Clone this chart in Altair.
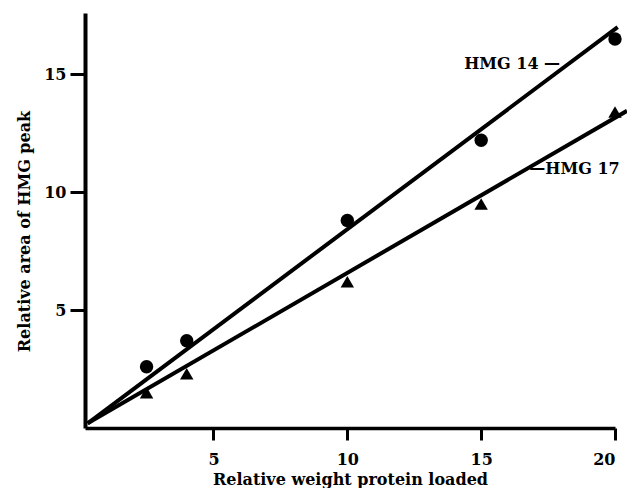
import altair as alt
import pandas as pd

# Measured data
x_load = [2.5, 4, 10, 15, 20]
hmg14 = [2.6, 3.7, 8.8, 12.2, 16.5]
hmg17 = [1.5, 2.3, 6.2, 9.5, 13.4]

# Fitted lines (start near origin)
line14_x = [0.3, 20.1]
line14_y = [0.2, 17.0]
line17_x = [0.3, 20.45]
line17_y = [0.2, 13.45]

# Line labels
label_text = ["HMG 14 \u2014", "\u2014HMG 17"]
label_x = [17.95, 16.8]
label_y = [15.42, 10.97]
label_align = ["right", "left"]

x_ticks = [5, 10, 15, 20]
y_ticks = [5, 10, 15]

FONT = "DejaVu Serif"

pts = pd.DataFrame(
    {"x": x_load * 2, "y": hmg14 + hmg17,
     "series": ["HMG 14"] * len(x_load) + ["HMG 17"] * len(x_load)}
)
lines = pd.DataFrame(
    {"x": line14_x + line17_x, "y": line14_y + line17_y,
     "series": ["HMG 14"] * 2 + ["HMG 17"] * 2}
)
labs = pd.DataFrame({"x": label_x, "y": label_y, "t": label_text, "a": label_align})

xs = alt.Scale(domain=[0.2, 20], nice=False, zero=False)
ys = alt.Scale(domain=[0, 17.6], nice=False, zero=False)

xaxis = alt.Axis(
    values=x_ticks, grid=False, title="Relative weight protein loaded",
    domainWidth=3.5, domainColor="black", tickColor="black", tickWidth=3, tickSize=12,
    labelFont=FONT, labelFontWeight="bold", labelFontSize=16, labelColor="black",
    labelPadding=11, titleFont=FONT, titleFontWeight="bold", titleFontSize=16,
    titleColor="black", titlePadding=4,
)
yaxis = alt.Axis(
    values=y_ticks, grid=False, title="Relative area of HMG peak",
    domainWidth=4, domainColor="black", tickColor="black", tickWidth=3, tickSize=15,
    labelFont=FONT, labelFontWeight="bold", labelFontSize=16, labelColor="black",
    labelPadding=4, titleFont=FONT, titleFontWeight="bold", titleFontSize=16,
    titleColor="black", titlePadding=11, titleY=218,
)

line_layer = alt.Chart(lines).mark_line(color="black", strokeWidth=4, clip=False).encode(
    x=alt.X("x:Q", scale=xs, axis=xaxis),
    y=alt.Y("y:Q", scale=ys, axis=yaxis),
    detail="series:N",
)

pt_layer = alt.Chart(pts).mark_point(filled=True, opacity=1, size=180, color="black").encode(
    x=alt.X("x:Q", scale=xs),
    y=alt.Y("y:Q", scale=ys),
    shape=alt.Shape("series:N", scale=alt.Scale(domain=["HMG 14", "HMG 17"],
                                                range=["circle", "triangle-up"]), legend=None),
)

lab_r = alt.Chart(labs[labs.a == "right"]).mark_text(
    font=FONT, fontWeight="bold", fontSize=16, color="black", align="right", baseline="middle"
).encode(x=alt.X("x:Q", scale=xs), y=alt.Y("y:Q", scale=ys), text="t:N")
lab_l = alt.Chart(labs[labs.a == "left"]).mark_text(
    font=FONT, fontWeight="bold", fontSize=16, color="black", align="left", baseline="middle"
).encode(x=alt.X("x:Q", scale=xs), y=alt.Y("y:Q", scale=ys), text="t:N")

chart = alt.layer(line_layer, pt_layer, lab_r, lab_l).properties(
    width=530, height=415, autosize="none",
    padding={"left": 77, "top": 5, "right": 12, "bottom": 60},
    background="white",
).configure_view(stroke=None)

chart.save("out.html", embed_options={"renderer": "svg", "actions": False})
